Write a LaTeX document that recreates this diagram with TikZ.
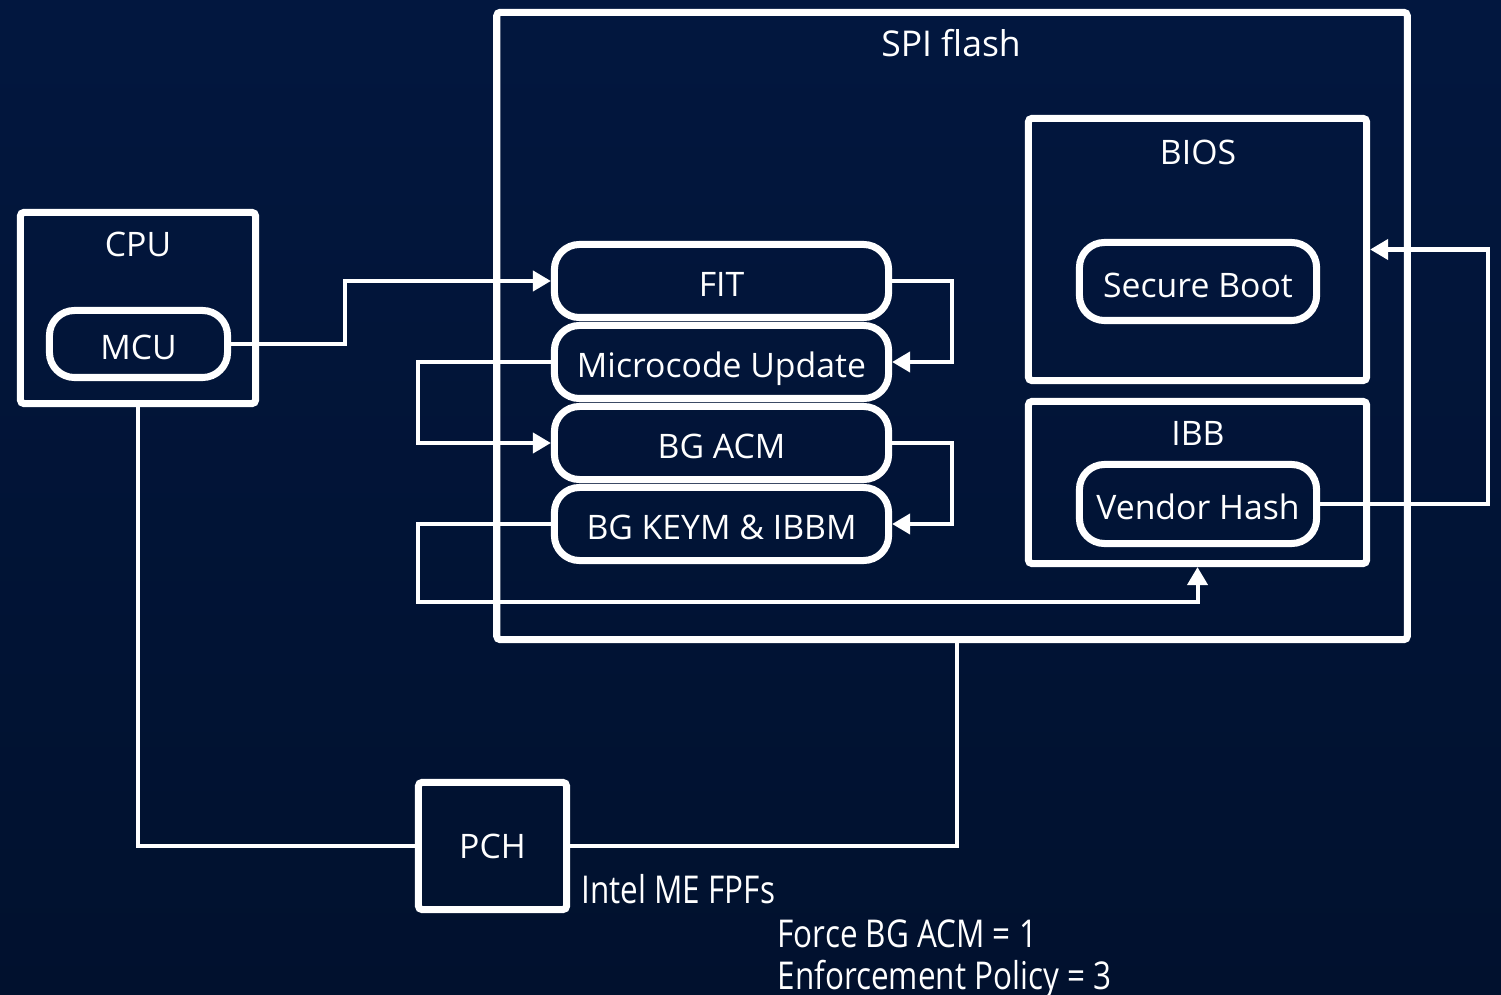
\documentclass[tikz,border=0pt]{standalone}
\usepackage{fontspec}
\setmainfont{Open Sans}
\newfontfamily\condfont{Open Sans}[FakeStretch=0.82]
\usetikzlibrary{arrows.meta,positioning}
\definecolor{bgtop}{RGB}{2,23,63}
\definecolor{bgbot}{RGB}{1,17,46}
\tikzset{
	box/.style={draw=white,line width=2pt,rectangle,rounded corners=1pt,inner sep=0pt},
	part/.style={draw=white,line width=2pt,rectangle,rounded corners=0.25cm,inner sep=0pt,text=white,text height=0.95em,text depth=0.05em},
	lbl/.style={text=white,inner sep=0pt},
	note/.style={text=white,inner sep=0pt,anchor=west,font=\condfont\fontsize{10.9}{13}\selectfont},
	link/.style={draw=white,line width=1.15pt},
	-tri/.style={-{Triangle[length=0.18cm,width=0.2cm]}},
	every node/.style={font=\fontsize{9.6}{12}\selectfont}
}

\begin{document}
\begin{tikzpicture}[x=0.01cm,y=-0.01cm]
	\shade[top color=bgtop,bottom color=bgbot] (0,0) rectangle (1501,995);
	\useasboundingbox (0,0) rectangle (1501,995);

	% flash and its parts
	\node[box,minimum width=9.1cm,minimum height=6.27cm] (spi) at (952,326) {};
	\node[lbl,font=\fontsize{10.1}{12}\selectfont] (spilbl) at (951,43) {SPI flash};
	\node[part,minimum width=3.34cm,minimum height=0.73cm] (fit) at (721.5,281) {FIT};
	\node[part,minimum width=3.34cm,minimum height=0.73cm] (mu) at (721.5,362) {Microcode Update};
	\node[part,minimum width=3.34cm,minimum height=0.73cm] (acm) at (721.5,443) {BG ACM};
	\node[part,minimum width=3.34cm,minimum height=0.73cm] (keym) at (721.5,524) {BG KEYM \& IBBM};
	\node[box,minimum width=3.38cm,minimum height=2.62cm] (bios) at (1197.5,249.5) {};
	\node[lbl] (bioslbl) at (1198,152) {BIOS};
	\node[part,minimum width=2.37cm,minimum height=0.78cm] (sb) at (1198,281.5) {Secure Boot};
	\node[box,minimum width=3.38cm,minimum height=1.62cm] (ibb) at (1197.5,482.5) {};
	\node[lbl] (ibblbl) at (1198,433) {IBB};
	\node[part,minimum width=2.37cm,minimum height=0.79cm] (vh) at (1198,504) {Vendor Hash};

	% cpu and pch
	\node[box,minimum width=2.35cm,minimum height=1.91cm] (cpu) at (138,308) {};
	\node[lbl] (cpulbl) at (138,244) {CPU};
	\node[part,minimum width=1.78cm,minimum height=0.67cm] (mcu) at (138.5,344) {MCU};
	\node[box,text=white,minimum width=1.48cm,minimum height=1.27cm] (pch) at (492.5,846) {PCH};
	\node[note] (fpf) at (581,889) {Intel ME FPFs};
	\node[note] (force) at (777,934) {Force BG ACM = 1};
	\node[note] (pol) at (777,979) {Enforcement Policy = 3};

	\coordinate (lx) at (418,0);
	\coordinate (rx) at (952,0);
	\coordinate (fx) at (1488,0);
	\coordinate (sx) at (957,0);
	\coordinate (bot) at (0,602);
	\coordinate (j1) at (345,344);

	\draw[link,-tri] (mcu.east) -- (j1) |- (fit.west);
	\draw[link,-tri] (fit.east) -| (rx |- mu.east) -- (mu.east);
	\draw[link,-tri] (mu.west) -| (lx |- acm.west) -- (acm.west);
	\draw[link,-tri] (acm.east) -| (rx |- keym.east) -- (keym.east);
	\draw[link,-tri] (keym.west) -| (lx |- bot) -| (ibb.south);
	\draw[link,-tri] (vh.east) -| (fx |- bios.east) -- (bios.east);
	\draw[link] (cpu.south) |- (pch.west);
	\draw[link] (pch.east) -| (sx |- spi.south);
\end{tikzpicture}
\end{document}
